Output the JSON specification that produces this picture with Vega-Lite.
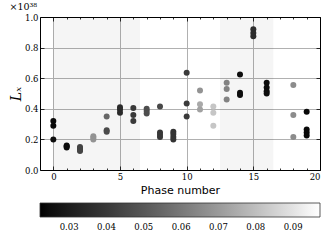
{
  "$schema": "https://vega.github.io/schema/vega-lite/v6.json",
  "width": 280,
  "height": 153,
  "autosize": {"type": "none"},
  "padding": {"left": 40, "top": 17, "right": 12, "bottom": 70},
  "title": {"text": "×10³⁸", "anchor": "start", "font": "DejaVu Serif", "fontSize": 9.5, "fontWeight": "normal", "offset": 2, "color": "#000000"},
  "config": {
    "view": {"stroke": null},
    "axis": {
      "domainColor": "#000000",
      "domainWidth": 1,
      "tickColor": "#000000",
      "tickWidth": 0.8,
      "labelFont": "DejaVu Serif",
      "labelFontSize": 8.5,
      "labelColor": "#000000",
      "gridColor": "#b0b0b0",
      "gridWidth": 1,
      "gridOpacity": 1
    }
  },
  "layer": [
    {
      "data": {"values": [{"a": 0, "b": 6.5}, {"a": 12.5, "b": 16.5}]},
      "mark": {"type": "rect", "color": "#000000", "opacity": 0.04},
      "encoding": {
        "x": {"field": "a", "type": "quantitative", "scale": {"domain": [-1, 20], "nice": false},
          "axis": {"orient": "top", "values": [0,1,2,3,4,5,6,7,8,9,10,11,12,13,14,15,16,17,18,19,20], "labels": false, "grid": false, "title": null,
            "tickSize": {"condition": {"test": "datum.value % 5 === 0", "value": -4}, "value": -2}}},
        "x2": {"field": "b"},
        "y": {"datum": 0, "type": "quantitative", "scale": {"domain": [0, 1], "nice": false},
          "axis": {"orient": "right", "values": [0, 0.2, 0.4, 0.6, 0.8, 1.0], "labels": false, "grid": false, "title": null, "tickSize": -4}},
        "y2": {"datum": 1}
      }
    },
    {
      "data": {"values": [
        {"phase": 0, "L": 0.32, "c": 0.024}, {"phase": 0, "L": 0.29, "c": 0.024}, {"phase": 0, "L": 0.20, "c": 0.025},
        {"phase": 1, "L": 0.16, "c": 0.025}, {"phase": 1, "L": 0.155, "c": 0.025}, {"phase": 1, "L": 0.147, "c": 0.025},
        {"phase": 2, "L": 0.15, "c": 0.044}, {"phase": 2, "L": 0.14, "c": 0.044}, {"phase": 2, "L": 0.13, "c": 0.044}, {"phase": 2, "L": 0.124, "c": 0.044},
        {"phase": 3, "L": 0.22, "c": 0.068}, {"phase": 3, "L": 0.21, "c": 0.068}, {"phase": 3, "L": 0.20, "c": 0.068},
        {"phase": 4, "L": 0.35, "c": 0.055}, {"phase": 4, "L": 0.26, "c": 0.046}, {"phase": 4, "L": 0.25, "c": 0.046},
        {"phase": 5, "L": 0.41, "c": 0.035}, {"phase": 5, "L": 0.395, "c": 0.035}, {"phase": 5, "L": 0.375, "c": 0.035},
        {"phase": 6, "L": 0.405, "c": 0.04}, {"phase": 6, "L": 0.36, "c": 0.04}, {"phase": 6, "L": 0.32, "c": 0.04},
        {"phase": 7, "L": 0.40, "c": 0.047}, {"phase": 7, "L": 0.385, "c": 0.047}, {"phase": 7, "L": 0.37, "c": 0.047},
        {"phase": 8, "L": 0.415, "c": 0.045}, {"phase": 8, "L": 0.245, "c": 0.04}, {"phase": 8, "L": 0.23, "c": 0.04}, {"phase": 8, "L": 0.215, "c": 0.04},
        {"phase": 9, "L": 0.25, "c": 0.038}, {"phase": 9, "L": 0.235, "c": 0.038}, {"phase": 9, "L": 0.215, "c": 0.038}, {"phase": 9, "L": 0.20, "c": 0.038},
        {"phase": 10, "L": 0.635, "c": 0.041}, {"phase": 10, "L": 0.435, "c": 0.041}, {"phase": 10, "L": 0.35, "c": 0.041},
        {"phase": 11, "L": 0.52, "c": 0.068}, {"phase": 11, "L": 0.43, "c": 0.074}, {"phase": 11, "L": 0.395, "c": 0.072},
        {"phase": 12, "L": 0.415, "c": 0.082}, {"phase": 12, "L": 0.375, "c": 0.082}, {"phase": 12, "L": 0.29, "c": 0.082},
        {"phase": 13, "L": 0.57, "c": 0.063}, {"phase": 13, "L": 0.53, "c": 0.063}, {"phase": 13, "L": 0.46, "c": 0.063},
        {"phase": 14, "L": 0.625, "c": 0.025}, {"phase": 14, "L": 0.505, "c": 0.025}, {"phase": 14, "L": 0.49, "c": 0.025},
        {"phase": 15, "L": 0.92, "c": 0.036}, {"phase": 15, "L": 0.895, "c": 0.036}, {"phase": 15, "L": 0.875, "c": 0.036},
        {"phase": 16, "L": 0.57, "c": 0.025}, {"phase": 16, "L": 0.54, "c": 0.025}, {"phase": 16, "L": 0.515, "c": 0.025}, {"phase": 16, "L": 0.50, "c": 0.025},
        {"phase": 18, "L": 0.555, "c": 0.066}, {"phase": 18, "L": 0.36, "c": 0.066}, {"phase": 18, "L": 0.215, "c": 0.066},
        {"phase": 19, "L": 0.38, "c": 0.024}, {"phase": 19, "L": 0.265, "c": 0.024}, {"phase": 19, "L": 0.245, "c": 0.024}, {"phase": 19, "L": 0.225, "c": 0.024}
      ]},
      "mark": {"type": "circle", "size": 36, "opacity": 1},
      "encoding": {
        "x": {"field": "phase", "type": "quantitative", "scale": {"domain": [-1, 20], "nice": false},
          "axis": {"orient": "bottom", "grid": true, "values": [0,1,2,3,4,5,6,7,8,9,10,11,12,13,14,15,16,17,18,19,20],
            "labelExpr": "datum.value % 5 === 0 ? datum.label : ''",
            "tickSize": {"condition": {"test": "datum.value % 5 === 0", "value": -4}, "value": -2},
            "gridOpacity": {"condition": {"test": "datum.value % 5 === 0", "value": 1}, "value": 0},
            "labelPadding": 6,
            "title": "Phase number", "titleFont": "DejaVu Sans", "titleFontSize": 11, "titleFontWeight": "normal", "titlePadding": 4}},
        "y": {"field": "L", "type": "quantitative", "scale": {"domain": [0, 1], "nice": false},
          "axis": {"orient": "left", "grid": true, "values": [0, 0.2, 0.4, 0.6, 0.8, 1.0], "format": ".1f", "tickSize": -4, "labelPadding": 6,
            "title": "Lₓ", "titleFont": "DejaVu Serif", "titleFontStyle": "italic", "titleFontSize": 14, "titleFontWeight": "normal", "titlePadding": 1}},
        "color": {"field": "c", "type": "quantitative",
          "scale": {"domain": [0.0222, 0.0972], "range": ["#000000", "#ffffff"], "nice": false, "zero": false},
          "legend": {"orient": "none", "legendX": 0, "legendY": 186, "direction": "horizontal", "gradientLength": 280, "gradientThickness": 14,
            "title": null, "values": [0.03, 0.04, 0.05, 0.06, 0.07, 0.08, 0.09], "format": ".2f",
            "labelFont": "DejaVu Serif", "labelFontSize": 8.5, "labelColor": "#000000", "labelOffset": 6,
            "gradientStrokeColor": "#333333", "gradientStrokeWidth": 0.8}}
      }
    }
  ],
  "resolve": {"axis": {"x": "independent", "y": "independent"}}
}
